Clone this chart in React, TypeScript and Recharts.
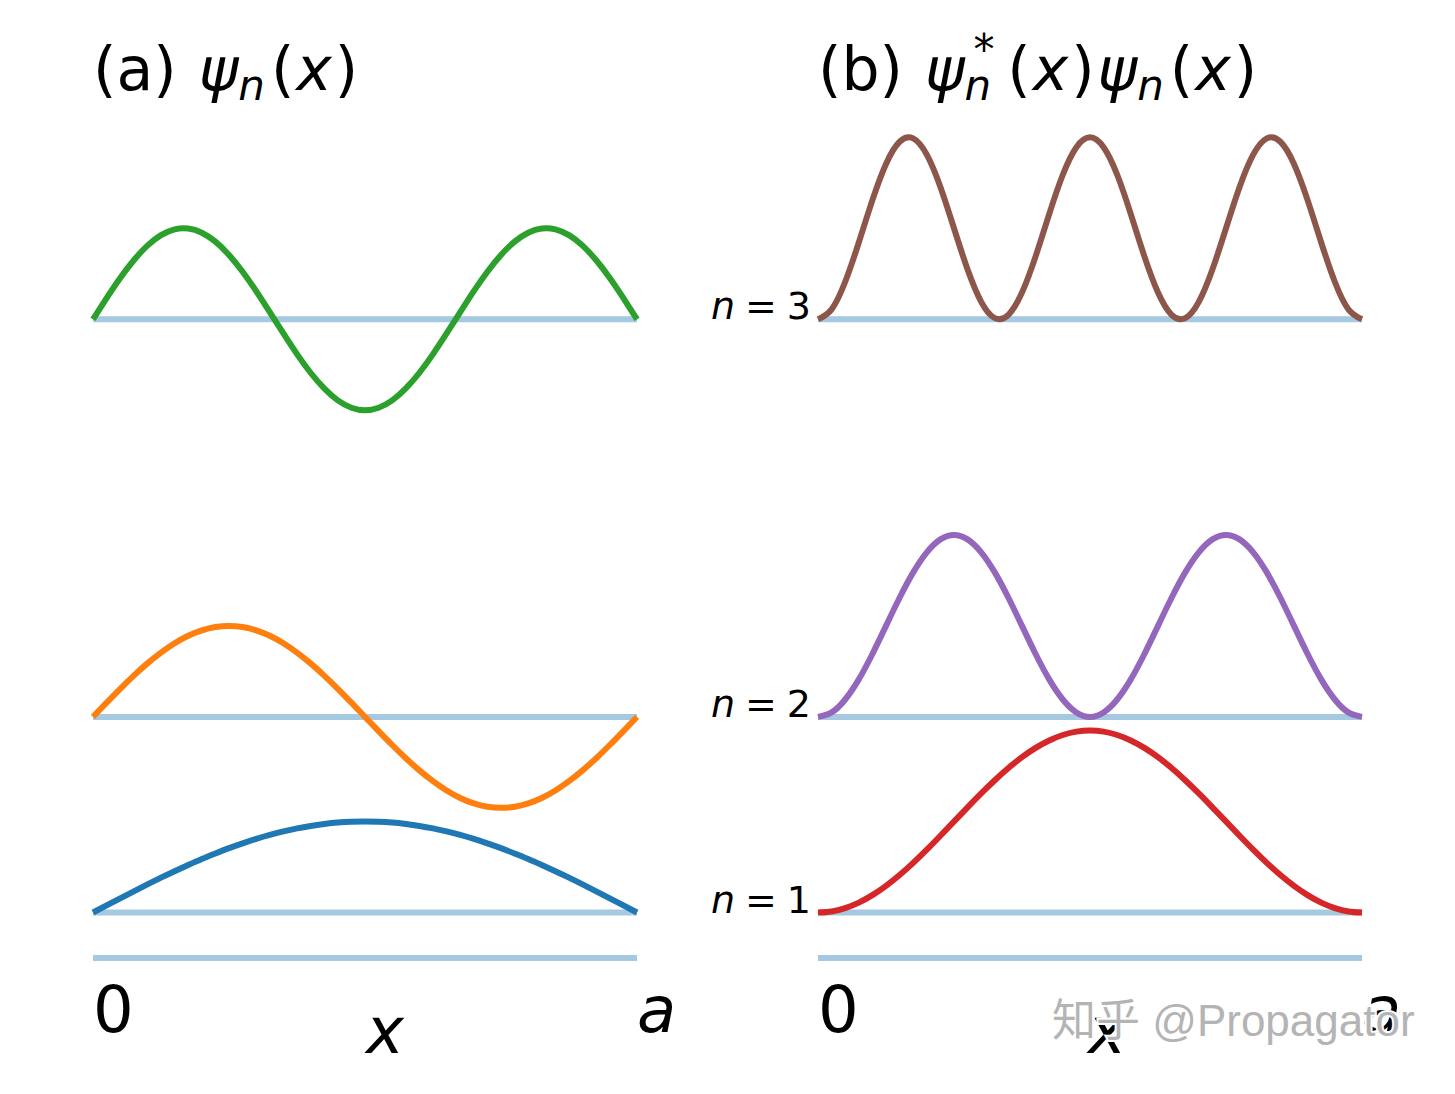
import React from 'react';
import { LineChart, Line, XAxis, YAxis } from 'recharts';

// positions along the well, in units of a
const xPos = [
  0, 0.025, 0.05, 0.075, 0.1, 0.125, 0.15, 0.175, 0.2, 0.225, 0.25, 0.275, 0.3, 0.325,
  0.35, 0.375, 0.4, 0.425, 0.45, 0.475, 0.5, 0.525, 0.55, 0.575, 0.6, 0.625, 0.65,
  0.675, 0.7, 0.725, 0.75, 0.775, 0.8, 0.825, 0.85, 0.875, 0.9, 0.925, 0.95, 0.975, 1,
];

// wavefunctions psi_n(x)
const psi1 = [
  0, 0.078, 0.156, 0.233, 0.309, 0.383, 0.454, 0.522, 0.588, 0.649, 0.707, 0.76, 0.809,
  0.853, 0.891, 0.924, 0.951, 0.972, 0.988, 0.997, 1, 0.997, 0.988, 0.972, 0.951, 0.924,
  0.891, 0.853, 0.809, 0.76, 0.707, 0.649, 0.588, 0.522, 0.454, 0.383, 0.309, 0.233,
  0.156, 0.078, 0,
];
const psi2 = [
  0, 0.156, 0.309, 0.454, 0.588, 0.707, 0.809, 0.891, 0.951, 0.988, 1, 0.988, 0.951,
  0.891, 0.809, 0.707, 0.588, 0.454, 0.309, 0.156, 0, -0.156, -0.309, -0.454, -0.588,
  -0.707, -0.809, -0.891, -0.951, -0.988, -1, -0.988, -0.951, -0.891, -0.809, -0.707,
  -0.588, -0.454, -0.309, -0.156, 0,
];
const psi3 = [
  0, 0.233, 0.454, 0.649, 0.809, 0.924, 0.988, 0.997, 0.951, 0.853, 0.707, 0.522, 0.309,
  0.078, -0.156, -0.383, -0.588, -0.76, -0.891, -0.972, -1, -0.972, -0.891, -0.76, -0.588,
  -0.383, -0.156, 0.078, 0.309, 0.522, 0.707, 0.853, 0.951, 0.997, 0.988, 0.924, 0.809,
  0.649, 0.454, 0.233, 0,
];

// probability densities psi*psi
const prob1 = [
  0, 0.012, 0.049, 0.109, 0.191, 0.293, 0.412, 0.546, 0.691, 0.844, 1, 1.156, 1.309,
  1.454, 1.588, 1.707, 1.809, 1.891, 1.951, 1.988, 2, 1.988, 1.951, 1.891, 1.809, 1.707,
  1.588, 1.454, 1.309, 1.156, 1, 0.844, 0.691, 0.546, 0.412, 0.293, 0.191, 0.109, 0.049,
  0.012, 0,
];
const prob2 = [
  0, 0.049, 0.191, 0.412, 0.691, 1, 1.309, 1.588, 1.809, 1.951, 2, 1.951, 1.809, 1.588,
  1.309, 1, 0.691, 0.412, 0.191, 0.049, 0, 0.049, 0.191, 0.412, 0.691, 1, 1.309, 1.588,
  1.809, 1.951, 2, 1.951, 1.809, 1.588, 1.309, 1, 0.691, 0.412, 0.191, 0.049, 0,
];
const prob3 = [
  0, 0.109, 0.412, 0.844, 1.309, 1.707, 1.951, 1.988, 1.809, 1.454, 1, 0.546, 0.191,
  0.012, 0.049, 0.293, 0.691, 1.156, 1.588, 1.891, 2, 1.891, 1.588, 1.156, 0.691, 0.293,
  0.049, 0.012, 0.191, 0.546, 1, 1.454, 1.809, 1.988, 1.951, 1.707, 1.309, 0.844, 0.412,
  0.109, 0,
];

// vertical offset of each level (energy baseline)
const levels = [0, 2.15, 6.52];
const levelLabels = ['1', '2', '3'];
const xTicks = [0, 1];
const xTickLabels = ['0', 'a'];

const baseColor = '#a5c9e1';
const psiColors = ['#1f77b4', '#ff7f0e', '#2ca02c'];
const probColors = ['#d62728', '#9467bd', '#8c564b'];
const font = 'DejaVu Sans, sans-serif';
const lineW = 6;

const rows = xPos.map((x, i) => ({
  x,
  b1: levels[0],
  b2: levels[1],
  b3: levels[2],
  w1: levels[0] + psi1[i],
  w2: levels[1] + psi2[i],
  w3: levels[2] + psi3[i],
  d1: levels[0] + prob1[i],
  d2: levels[1] + prob2[i],
  d3: levels[2] + prob3[i],
}));

const yDomain: [number, number] = [-0.5, 8.6];

const XTick = (props: any) => {
  const { x, y, payload } = props;
  const idx = xTicks.indexOf(payload.value);
  return (
    <text
      x={x}
      y={y + 74}
      fontSize={64}
      fontFamily={font}
      fontStyle={idx === 1 ? 'italic' : 'normal'}
      textAnchor="start"
      fill="#000"
    >
      {xTickLabels[idx]}
    </text>
  );
};

const LevelTick = (props: any) => {
  const { x, y, payload } = props;
  const idx = levels.indexOf(payload.value);
  return (
    <text x={x - 7} y={y} fontSize={38} fontFamily={font} textAnchor="end" fill="#000">
      <tspan fontStyle="italic">n</tspan>
      <tspan dx={10}>=</tspan>
      <tspan dx={10}>{levelLabels[idx]}</tspan>
    </text>
  );
};

function Panel({ keys, colors, showLevels, left, width, marginLeft, marginRight }: any) {
  return (
    <div style={{ position: 'absolute', left, top: 0 }}>
      <LineChart
        width={width}
        height={1094}
        data={rows}
        margin={{ top: 130, right: marginRight, left: marginLeft, bottom: 36 }}
      >
        <XAxis
          dataKey="x"
          type="number"
          domain={[0, 1]}
          ticks={xTicks}
          height={100}
          tickSize={0}
          tickMargin={0}
          tickLine={false}
          axisLine={{ stroke: baseColor, strokeWidth: lineW }}
          tick={<XTick />}
        />
        <YAxis
          type="number"
          domain={yDomain}
          hide={!showLevels}
          width={showLevels ? 98 : 0}
          ticks={levels}
          tickSize={0}
          tickMargin={0}
          tickLine={false}
          axisLine={false}
          tick={<LevelTick />}
        />
        {['b1', 'b2', 'b3'].map((k) => (
          <Line
            key={k}
            dataKey={k}
            type="linear"
            stroke={baseColor}
            strokeWidth={lineW}
            dot={false}
            activeDot={false}
            isAnimationActive={false}
          />
        ))}
        {keys.map((k: string, i: number) => (
          <Line
            key={k}
            dataKey={k}
            type="natural"
            stroke={colors[i]}
            strokeWidth={lineW}
            dot={false}
            activeDot={false}
            isAnimationActive={false}
          />
        ))}
      </LineChart>
    </div>
  );
}

export default function App() {
  return (
    <div
      style={{
        position: 'fixed',
        left: 0,
        top: 0,
        width: 1455,
        height: 1094,
        background: '#fff',
        fontFamily: font,
      }}
    >
      <Panel
        keys={['w1', 'w2', 'w3']}
        colors={psiColors}
        showLevels={false}
        left={0}
        width={720}
        marginLeft={93}
        marginRight={83}
      />
      <Panel
        keys={['d1', 'd2', 'd3']}
        colors={probColors}
        showLevels={true}
        left={640}
        width={815}
        marginLeft={80}
        marginRight={93}
      />
      <svg
        width={1455}
        height={1094}
        style={{ position: 'absolute', left: 0, top: 0, pointerEvents: 'none' }}
        fontFamily={font}
      >
        <text x={93} y={90} fontSize={60} fill="#000">
          (a) <tspan fontStyle="italic" dx={3}>ψ</tspan>
          <tspan fontStyle="italic" fontSize={42} dy={10}>n</tspan>
          <tspan dx={6} dy={-10}>(</tspan>
          <tspan fontStyle="italic" dx={2}>x</tspan>
          <tspan dx={3}>)</tspan>
        </text>
        <text x={818} y={90} fontSize={60} fill="#000">
          (b) <tspan fontStyle="italic" dx={3}>ψ</tspan>
          <tspan fontSize={42} dx={9} dy={-26}>*</tspan>
          <tspan fontStyle="italic" fontSize={42} dx={-30} dy={36}>n</tspan>
          <tspan dx={16} dy={-10}>(</tspan>
          <tspan fontStyle="italic" dx={2}>x</tspan>
          <tspan dx={3}>)</tspan>
          <tspan fontStyle="italic" dx={3}>ψ</tspan>
          <tspan fontStyle="italic" fontSize={42} dy={10}>n</tspan>
          <tspan dx={6} dy={-10}>(</tspan>
          <tspan fontStyle="italic" dx={2}>x</tspan>
          <tspan dx={3}>)</tspan>
        </text>
        <text x={385} y={1053} fontSize={64} fontStyle="italic" textAnchor="middle" fill="#000">
          x
        </text>
        <text x={1107} y={1053} fontSize={64} fontStyle="italic" textAnchor="middle" fill="#000">
          x
        </text>
        <text
          x={1052}
          y={1036}
          fontSize={44}
          fontFamily="Liberation Sans, Noto Sans CJK SC, sans-serif"
          fill="#b4b4b4"
          stroke="#fff"
          strokeWidth={4}
          paintOrder="stroke"
        >
          知乎 @Propagator
        </text>
      </svg>
    </div>
  );
}
